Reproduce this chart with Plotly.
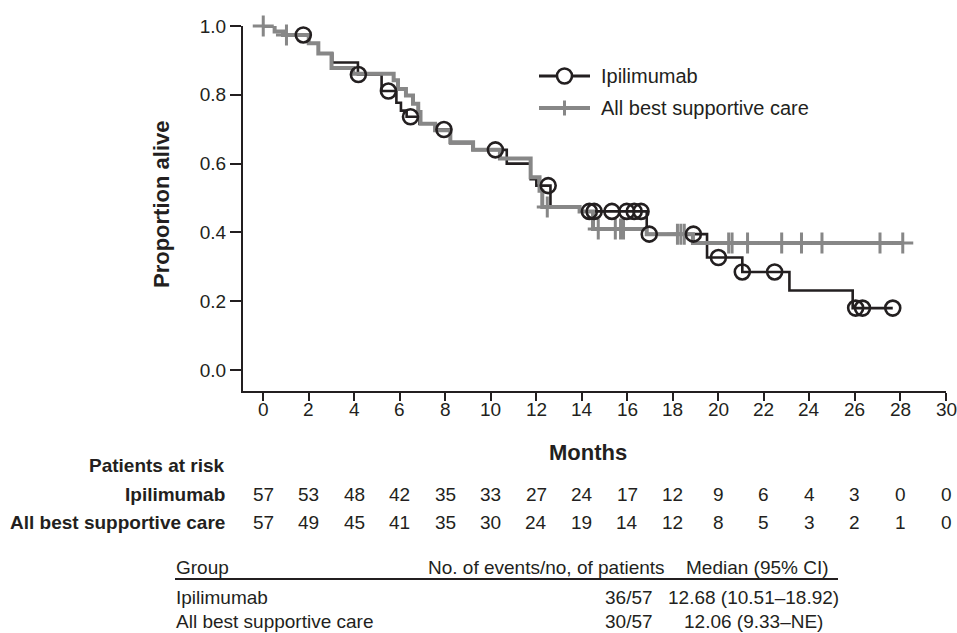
import plotly.graph_objects as go

# ---------------- data ----------------
ipi_times = [0, 0.5, 0.87, 2.0, 2.42, 3.03, 4.16, 5.2, 5.85, 6.05, 6.3, 6.86, 7.55, 8.22,
             9.2, 10.7, 11.75, 12.0, 12.62, 13.9, 16.85, 19.5, 21.05, 23.12, 25.9]
ipi_surv = [1.0, 0.984, 0.974, 0.95, 0.92, 0.894, 0.859, 0.811, 0.777, 0.754, 0.736, 0.716,
            0.699, 0.659, 0.64, 0.6, 0.555, 0.536, 0.474, 0.461, 0.395, 0.327, 0.285, 0.231, 0.18]
ipi_censor = [1.76, 4.18, 5.5, 6.47, 7.94, 10.2, 12.52, 14.33, 14.54, 15.32, 15.97, 16.3,
              16.6, 16.96, 18.9, 20.0, 21.05, 22.47, 26.03, 26.33, 27.66]

bsc_times = [0, 0.5, 0.87, 2.0, 2.42, 3.0, 3.95, 5.73, 5.92, 6.27, 6.58, 6.81, 6.91, 7.55,
             8.22, 9.22, 10.4, 11.75, 12.14, 12.26, 13.9, 14.49, 16.85, 18.88]
bsc_surv = [1.0, 0.984, 0.974, 0.95, 0.92, 0.878, 0.861, 0.842, 0.817, 0.798, 0.774, 0.75,
            0.716, 0.697, 0.662, 0.64, 0.615, 0.56, 0.521, 0.474, 0.461, 0.41, 0.395, 0.369]
bsc_censor = [0, 1.02, 12.48, 14.72, 15.47, 15.7, 15.83, 18.2, 18.35, 18.5, 20.45, 20.6,
              21.28, 22.78, 23.65, 24.55, 27.1, 28.1]

x_ticks = list(range(0, 31, 2))
y_ticks = [0.0, 0.2, 0.4, 0.6, 0.8, 1.0]

risk_months = list(range(0, 31, 2))
risk_ipi = [57, 53, 48, 42, 35, 33, 27, 24, 17, 12, 9, 6, 4, 3, 0, 0]
risk_bsc = [57, 49, 45, 41, 35, 30, 24, 19, 14, 12, 8, 5, 3, 2, 1, 0]

group_names = ["Ipilimumab", "All best supportive care"]
group_events = ["36/57", "30/57"]
group_medians = ["12.68 (10.51\u201318.92)", "12.06 (9.33\u2013NE)"]
table_header = ["Group", "No. of events/no, of patients", "Median (95% CI)"]

# ---------------- styling / geometry ----------------
W, H = 957, 633
L, R, T, B = 243, 11, 26, 242
PW, PH = W - L - R, H - T - B
BLACK = "#231f20"
GREY = "#878787"
FONT = "Liberation Sans, Arial, Helvetica, sans-serif"


def px_x(px):
    return (px - L) / PW


def px_y(py):
    return (H - B - py) / PH


def surv_at(times, surv, t):
    idx = 0
    for i, tt in enumerate(times):
        if tt <= t:
            idx = i
    return surv[idx]


fig = go.Figure()

# step curves
fig.add_trace(go.Scatter(
    x=ipi_times + [max(ipi_censor)], y=ipi_surv + [ipi_surv[-1]],
    mode="lines", line=dict(color=BLACK, width=2.6, shape="hv"),
    showlegend=False, hoverinfo="skip", cliponaxis=False))
fig.add_trace(go.Scatter(
    x=bsc_times + [max(bsc_censor)], y=bsc_surv + [bsc_surv[-1]],
    mode="lines", line=dict(color=GREY, width=4, shape="hv"),
    showlegend=False, hoverinfo="skip", cliponaxis=False))
# censor marks
fig.add_trace(go.Scatter(
    x=bsc_censor, y=[surv_at(bsc_times, bsc_surv, t) for t in bsc_censor],
    mode="markers",
    marker=dict(symbol="cross-thin", size=15, line=dict(color=GREY, width=3)),
    showlegend=False, hoverinfo="skip", cliponaxis=False))
fig.add_trace(go.Scatter(
    x=ipi_censor, y=[surv_at(ipi_times, ipi_surv, t) for t in ipi_censor],
    mode="markers",
    marker=dict(symbol="circle-open", size=15, color=BLACK, line=dict(color=BLACK, width=2.6)),
    showlegend=False, hoverinfo="skip", cliponaxis=False))

shapes = []
annotations = []

# x tick labels (placed as text so their distance to the axis matches)
for v in x_ticks:
    annotations.append(dict(text=str(v), xref="x", yref="paper", x=v, y=px_y(410),
                            xanchor="center", yanchor="middle", showarrow=False,
                            font=dict(size=19, color=BLACK, family=FONT)))

# custom legend
leg_x0, leg_x1, leg_text_x = 539, 590, 599
leg_rows = [(76, "Ipilimumab", BLACK, 3, "circle"), (108, "All best supportive care", GREY, 4, "cross")]
for py, label, col, lw, sym in leg_rows:
    shapes.append(dict(type="line", xref="paper", yref="paper",
                       x0=px_x(leg_x0), x1=px_x(leg_x1), y0=px_y(py), y1=px_y(py),
                       line=dict(color=col, width=lw)))
    cx = (leg_x0 + leg_x1) / 2
    if sym == "circle":
        r = 7.5
        shapes.append(dict(type="circle", xref="paper", yref="paper",
                           x0=px_x(cx - r), x1=px_x(cx + r), y0=px_y(py + r), y1=px_y(py - r),
                           line=dict(color=BLACK, width=2.6), fillcolor="white"))
    else:
        shapes.append(dict(type="line", xref="paper", yref="paper",
                           x0=px_x(cx), x1=px_x(cx), y0=px_y(py + 7.5), y1=px_y(py - 7.5),
                           line=dict(color=GREY, width=3)))
    annotations.append(dict(text=label, xref="paper", yref="paper", x=px_x(leg_text_x), y=px_y(py),
                            xanchor="left", yanchor="middle", showarrow=False,
                            font=dict(size=20, color=BLACK, family=FONT)))

# axis titles
annotations.append(dict(text="<b>Proportion alive</b>", xref="paper", yref="paper",
                        x=px_x(161), y=px_y(205), textangle=-90, showarrow=False,
                        xanchor="center", yanchor="middle",
                        font=dict(size=22, color=BLACK, family=FONT)))
annotations.append(dict(text="<b>Months</b>", xref="paper", yref="paper",
                        x=px_x(588), y=px_y(452), showarrow=False,
                        xanchor="center", yanchor="middle",
                        font=dict(size=22, color=BLACK, family=FONT)))

# patients at risk table
label_right = 227
annotations.append(dict(text="<b>Patients at risk</b>", xref="paper", yref="paper",
                        x=px_x(label_right), y=px_y(465), xanchor="right", yanchor="middle",
                        showarrow=False, font=dict(size=19, color=BLACK, family=FONT)))
for py, label, vals in [(494, group_names[0], risk_ipi), (522, group_names[1], risk_bsc)]:
    annotations.append(dict(text="<b>" + label + "</b>", xref="paper", yref="paper",
                            x=px_x(label_right), y=px_y(py), xanchor="right", yanchor="middle",
                            showarrow=False, font=dict(size=19, color=BLACK, family=FONT)))
    for m, v in zip(risk_months, vals):
        annotations.append(dict(text=str(v), xref="x", yref="paper", x=m, y=px_y(py),
                                xanchor="center", yanchor="middle", showarrow=False,
                                font=dict(size=19, color=BLACK, family=FONT)))

# summary table
tfont = dict(size=19, color=BLACK, family=FONT)
annotations.append(dict(text=table_header[0], xref="paper", yref="paper", x=px_x(174), y=px_y(567),
                        xanchor="left", yanchor="middle", showarrow=False, font=tfont))
annotations.append(dict(text=table_header[1], xref="paper", yref="paper", x=px_x(667), y=px_y(567),
                        xanchor="right", yanchor="middle", showarrow=False, font=tfont))
annotations.append(dict(text=table_header[2], xref="paper", yref="paper", x=px_x(757), y=px_y(567),
                        xanchor="center", yanchor="middle", showarrow=False, font=tfont))
shapes.append(dict(type="line", xref="paper", yref="paper", x0=px_x(175), x1=px_x(838),
                   y0=px_y(579), y1=px_y(579), line=dict(color=BLACK, width=2)))
for py, g, e, md in zip([597, 621], group_names, group_events, group_medians):
    annotations.append(dict(text=g, xref="paper", yref="paper", x=px_x(174), y=px_y(py),
                            xanchor="left", yanchor="middle", showarrow=False, font=tfont))
    annotations.append(dict(text=e, xref="paper", yref="paper", x=px_x(629), y=px_y(py),
                            xanchor="center", yanchor="middle", showarrow=False, font=tfont))
    annotations.append(dict(text=md, xref="paper", yref="paper", x=px_x(753), y=px_y(py),
                            xanchor="center", yanchor="middle", showarrow=False, font=tfont))

fig.update_layout(
    width=W, height=H,
    margin=dict(l=L, r=R, t=T, b=B, pad=0),
    paper_bgcolor="white", plot_bgcolor="white",
    font=dict(family=FONT, color=BLACK, size=19),
    shapes=shapes, annotations=annotations,
    showlegend=False,
)
fig.update_xaxes(range=[-0.89, 30], tickvals=x_ticks, showticklabels=False,
                 showgrid=False, zeroline=False,
                 showline=True, linecolor=BLACK, linewidth=2,
                 ticks="outside", ticklen=8, tickwidth=2, tickcolor=BLACK)
fig.update_yaxes(range=[-0.061, 1.0], tickvals=y_ticks, tickformat=".1f", showgrid=False,
                 zeroline=False, showline=True, linecolor=BLACK, linewidth=2,
                 ticks="outside", ticklen=11, tickwidth=2, tickcolor=BLACK,
                 tickfont=dict(size=19, color=BLACK, family=FONT))

fig.write_html(
    "out.html",
    config={"displayModeBar": False, "staticPlot": True},
    post_script="document.body.style.margin='0px';document.body.style.overflow='hidden';",
)
